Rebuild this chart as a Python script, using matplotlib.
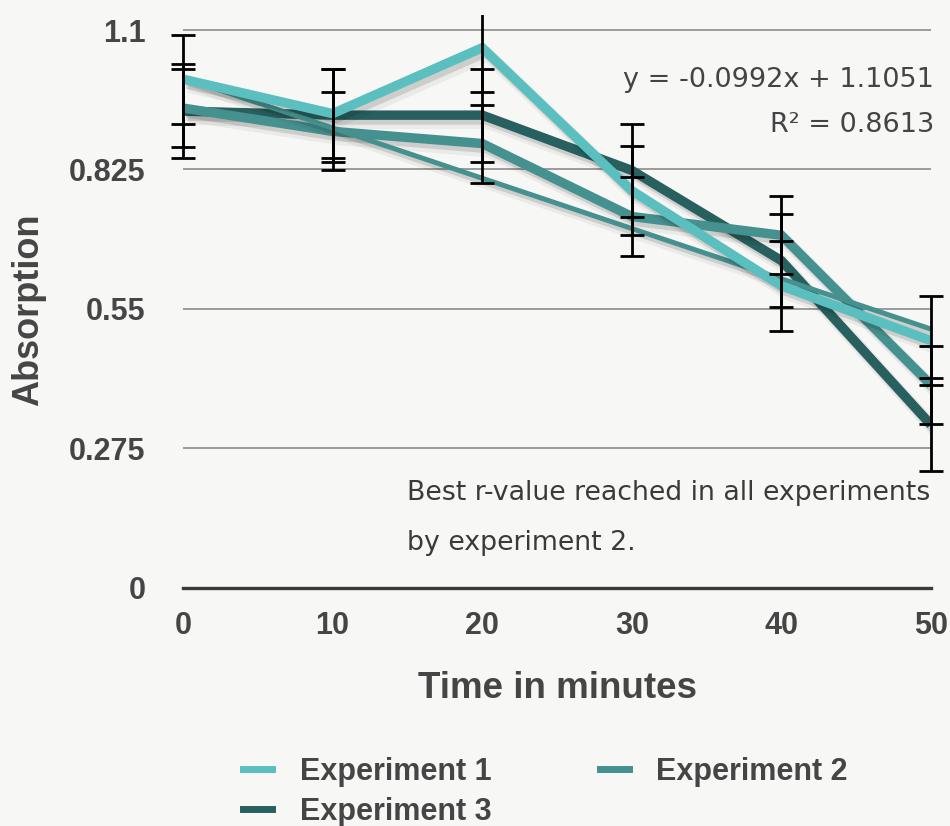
import matplotlib
matplotlib.use("Agg")
import matplotlib.pyplot as plt
import matplotlib.patheffects as pe
from matplotlib.transforms import Bbox, TransformedBbox
from matplotlib.lines import Line2D
import numpy as np

# ---- data ----
time_min = [0, 10, 20, 30, 40, 50]
exp1 = [1.003, 0.935, 1.065, 0.783, 0.595, 0.487]
exp2 = [0.946, 0.900, 0.876, 0.732, 0.695, 0.400]
exp3 = [0.940, 0.932, 0.932, 0.823, 0.645, 0.321]
err1 = [0.088] * 6
err2 = [0.077] * 6
err3 = [0.092] * 6
series_names = ["Experiment 1", "Experiment 2", "Experiment 3"]
y_ticks = [0, 0.275, 0.55, 0.825, 1.1]
y_tick_labels = ["0", "0.275", "0.55", "0.825", "1.1"]
trend_slope = -0.0992
trend_intercept = 1.1051
r_squared = 0.8613
note_lines = ["Best r-value reached in all experiments", "by experiment 2."]

c1 = "#5bbfc0"
c2 = "#45918f"
c3 = "#285f5f"
bg = "#f7f7f6"
txt = "#454545"

BOLD = "Liberation Sans"

fig = plt.figure(figsize=(9.5, 8.26), dpi=100, facecolor=bg)
ax = fig.add_axes([183/950, 1-587.5/826, (931-183)/950, (587.5-15)/826])
ax.set_facecolor(bg)

def shadow(lw):
    return [pe.SimpleLineShadow(offset=(4, -5), shadow_color="black", alpha=0.05, linewidth=lw + 3),
            pe.SimpleLineShadow(offset=(2.5, -3.5), shadow_color="black", alpha=0.12, linewidth=lw),
            pe.Normal()]

lw = 6.8
ax.plot(time_min, exp3, color=c3, lw=lw, solid_joinstyle="miter", solid_capstyle="butt",
        path_effects=shadow(lw), zorder=3)
ax.plot(time_min, exp2, color=c2, lw=lw, solid_joinstyle="miter", solid_capstyle="butt",
        path_effects=shadow(lw), zorder=4)
# trend line for experiment 2 (x index 1..6)
idx = np.arange(1, len(time_min) + 1)
trend = trend_slope * idx + trend_intercept
ax.plot(time_min, trend, color=c2, lw=3.6, solid_capstyle="butt",
        path_effects=shadow(3.6), zorder=5)
ax.plot(time_min, exp1, color=c1, lw=lw, solid_joinstyle="miter", solid_capstyle="butt",
        path_effects=shadow(lw), zorder=6)

clipbox = TransformedBbox(Bbox([[-0.05, -0.05], [1.05, 1.0]]), ax.transAxes)
for vals, errs in [(exp1, err1), (exp2, err2), (exp3, err3)]:
    cont = ax.errorbar(time_min, vals, yerr=errs, fmt="none", ecolor="black",
                       elinewidth=2.0, capsize=8.5, capthick=2.0, zorder=8)
    for art in cont.get_children():
        art.set_clip_on(True)
        art.set_clip_box(clipbox)
        art.set_clip_path(None)

ax.set_xlim(0, 50)
ax.set_ylim(0, 1.1296)
ax.set_xticks(time_min)
ax.set_xticklabels([str(t) for t in time_min])
ax.set_yticks(y_ticks)
ax.set_yticklabels(y_tick_labels)
ax.tick_params(axis="both", length=0, labelsize=22, colors=txt)
ax.tick_params(axis="y", pad=27)
ax.tick_params(axis="x", pad=17)
for lab in ax.get_xticklabels() + ax.get_yticklabels():
    lab.set_fontfamily(BOLD)
    lab.set_fontweight("bold")

ax.grid(axis="y", color="#8c8c8c", lw=1.2)
ax.grid(axis="x", visible=False)
ax.set_axisbelow(True)
for s in ["top", "right", "left"]:
    ax.spines[s].set_visible(False)
ax.spines["bottom"].set_color("#3a3a3a")
ax.spines["bottom"].set_linewidth(2.4)
ax.spines["bottom"].set_zorder(2)

ax.set_ylabel("Absorption", fontsize=26, fontweight="bold", family=BOLD, color=txt)
ax.yaxis.set_label_coords(-0.183, 0.485)
ax.set_xlabel("Time in minutes", fontsize=26.5, fontweight="bold", family=BOLD, color=txt)
ax.xaxis.set_label_coords(0.5, -0.145)

# annotations
fig.text(934/950, 1-87/826, f"y = {trend_slope}x + {trend_intercept}", ha="right", va="baseline",
         fontsize=19.5, family="DejaVu Sans", color="#444444")
fig.text(934/950, 1-132/826, f"R\u00b2 = {r_squared}", ha="right", va="baseline",
         fontsize=19.5, family="DejaVu Sans", color="#444444")
fig.text(407/950, 1-500/826, note_lines[0], ha="left", va="baseline",
         fontsize=19.3, family="DejaVu Sans", color="#3a3a3a")
fig.text(407/950, 1-550/826, note_lines[1], ha="left", va="baseline",
         fontsize=19.3, family="DejaVu Sans", color="#3a3a3a")

h1 = Line2D([], [], color=c1, lw=5)
h2 = Line2D([], [], color=c2, lw=5)
h3 = Line2D([], [], color=c3, lw=5)
leg = fig.legend([h1, h3, h2], [series_names[0], series_names[2], series_names[1]],
                 ncol=2, loc="upper left", bbox_to_anchor=(243/950, 1-757/826),
                 frameon=False, borderpad=0, borderaxespad=0, handlelength=0.95,
                 handletextpad=0.9, columnspacing=3.55, labelspacing=0.33,
                 prop={"family": BOLD, "weight": "bold", "size": 22})
for t in leg.get_texts():
    t.set_color(txt)

fig.savefig("out.png", dpi=100, facecolor=bg)
